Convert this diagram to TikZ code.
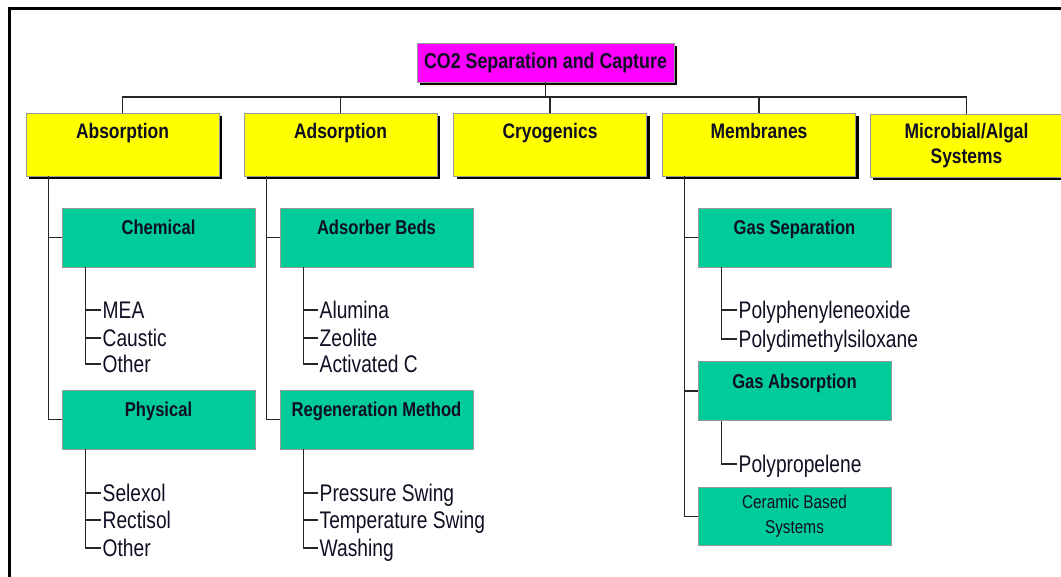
\documentclass[tikz,border=0pt]{standalone}
\usepackage{fontspec}
\setmainfont{Liberation Sans}
\newfontfamily\chartfont[FakeStretch=0.83]{Liberation Sans}
\newfontfamily\itemfont[FakeStretch=0.80]{Liberation Sans}
\usepackage{tikz}
\usetikzlibrary{shadows}
\definecolor{boxyellow}{RGB}{255,255,0}
\definecolor{boxmagenta}{RGB}{255,0,255}
\definecolor{boxteal}{RGB}{0,204,153}
\definecolor{inkc}{RGB}{15,15,35}

\begin{document}
\begin{tikzpicture}[x=1pt,y=-1pt,
	conn/.style={line width=1.4pt, draw=black!85},
	boxbase/.style={draw=black!40, line width=0.8pt, text=inkc, inner ysep=0pt, align=center},
	shade/.style={drop shadow={shadow xshift=3pt, shadow yshift=-3pt, fill=black, opacity=1}},
	rootbox/.style={boxbase, shade, fill=boxmagenta, minimum width=257, minimum height=39,
		font=\chartfont\bfseries\fontsize{21.5}{25}\selectfont},
	lvltwo/.style={boxbase, shade, fill=boxyellow, minimum width=193, minimum height=63,
		font=\chartfont\bfseries\fontsize{21}{25}\selectfont},
	lvl/.style={lvltwo, text height=25.5pt, text depth=37.5pt},
	subtwo/.style={boxbase, fill=boxteal, minimum width=193, minimum height=58,
		font=\chartfont\fontsize{18.5}{25}\selectfont},
	sub/.style={boxbase, fill=boxteal, minimum width=193, minimum height=59,
		font=\chartfont\bfseries\fontsize{20}{24}\selectfont, text height=27pt, text depth=32pt},
	item/.style={anchor=west, inner xsep=1.5pt, inner ysep=0pt, text=inkc,
		text height=17pt, text depth=0pt, font=\itemfont\fontsize{24}{28}\selectfont}]
	\useasboundingbox (0,0) rectangle (1061,577);
	% frame
	\draw[line width=3pt] (9.3,577) -- (9.3,8.7) -- (1061,8.7);

	% top levels
	\coordinate (bus) at (0,97);
	\node[rootbox] (root) at (545.5,62.5) {CO2 Separation and Capture};
	\node[lvl] (abs) at (122.5,144.5) {Absorption};
	\node[lvl] (ads) at (340.5,144.5) {Adsorption};
	\node[lvl] (cryo) at (550,144.5) {Cryogenics};
	\node[lvl] (memb) at (759,144.5) {Membranes};
	\node[lvltwo] (micro) at (966.5,145.5) {Microbial/Algal\\Systems};
	\draw[conn] (abs.north) -- (abs.north |- bus) -| (micro.north);
	\draw[conn] (root.south) -- (root.south |- bus);
	\draw[conn] (ads.north) -- (ads.north |- bus);
	\draw[conn] (cryo.north) -- (cryo.north |- bus);
	\draw[conn] (memb.north) -- (memb.north |- bus);

	% absorption
	\node[sub] (chem) at (158.5,237.5) {Chemical};
	\node[sub] (phys) at (158.5,419.5) {Physical};
	\draw[conn] (chem.west) -- ++(-13,0) coordinate (trA);
	\draw[conn] (trA |- abs.south) |- (phys.west);
	\node[item] (mea) at (101,310) {MEA};
	\node[item] (caus) at (101,338) {Caustic};
	\node[item] (othA) at (101,364) {Other};
	\draw[conn] ([xshift=24pt]chem.south west) |- (mea.west);
	\draw[conn] ([xshift=24pt]chem.south west) |- (caus.west);
	\draw[conn] ([xshift=24pt]chem.south west) |- (othA.west);
	\node[item] (selx) at (101,493) {Selexol};
	\node[item] (rect) at (101,520) {Rectisol};
	\node[item] (othB) at (101,548) {Other};
	\draw[conn] ([xshift=24pt]phys.south west) |- (selx.west);
	\draw[conn] ([xshift=24pt]phys.south west) |- (rect.west);
	\draw[conn] ([xshift=24pt]phys.south west) |- (othB.west);

	% adsorption
	\node[sub] (beds) at (376.5,237.5) {Adsorber Beds};
	\node[sub] (regen) at (376.5,419.5) {Regeneration Method};
	\draw[conn] (beds.west) -- ++(-13,0) coordinate (trB);
	\draw[conn] (trB |- ads.south) |- (regen.west);
	\node[item] (alum) at (318,310) {Alumina};
	\node[item] (zeo) at (318,338) {Zeolite};
	\node[item] (actc) at (318,364) {Activated C};
	\draw[conn] ([xshift=24pt]beds.south west) |- (alum.west);
	\draw[conn] ([xshift=24pt]beds.south west) |- (zeo.west);
	\draw[conn] ([xshift=24pt]beds.south west) |- (actc.west);
	\node[item] (psw) at (318,493) {Pressure Swing};
	\node[item] (tsw) at (318,520) {Temperature Swing};
	\node[item] (wash) at (318,548) {Washing};
	\draw[conn] ([xshift=24pt]regen.south west) |- (psw.west);
	\draw[conn] ([xshift=24pt]regen.south west) |- (tsw.west);
	\draw[conn] ([xshift=24pt]regen.south west) |- (wash.west);

	% membranes
	\node[sub] (gsep) at (794.5,237.5) {Gas Separation};
	\node[sub] (gabs) at (794.5,391) {Gas Absorption};
	\node[subtwo] (cer) at (794.5,516.5) {Ceramic Based\\Systems};
	\draw[conn] (gsep.west) -- ++(-13,0) coordinate (trM);
	\draw[conn] (trM |- memb.south) |- (cer.west);
	\draw[conn] (gabs.west) -- (gabs.west -| trM);
	\node[item] (ppo) at (737,310) {Polyphenyleneoxide};
	\node[item] (pdms) at (737,339) {Polydimethylsiloxane};
	\draw[conn] ([xshift=24pt]gsep.south west) |- (ppo.west);
	\draw[conn] ([xshift=24pt]gsep.south west) |- (pdms.west);
	\node[item] (ppl) at (737,464) {Polypropelene};
	\draw[conn] ([xshift=24pt]gabs.south west) |- (ppl.west);
\end{tikzpicture}
\end{document}
